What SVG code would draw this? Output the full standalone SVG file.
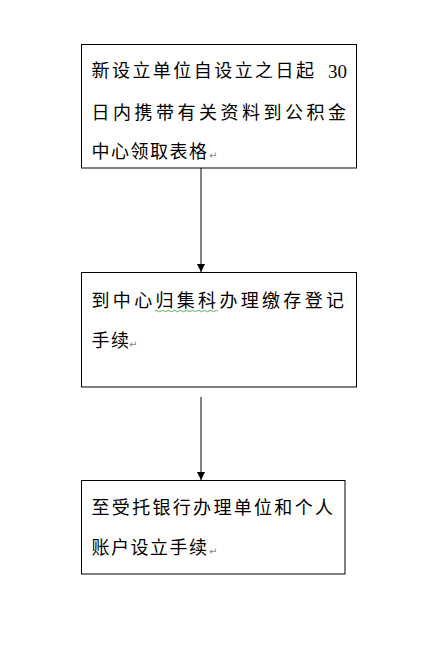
<svg xmlns="http://www.w3.org/2000/svg" width="433" height="646" viewBox="0 0 433 646">
<style>
.box{fill:#fff;stroke:#000;stroke-width:1}
.t{font-family:"Noto Sans CJK SC","Noto Sans",sans-serif;font-size:18px;fill:#000;letter-spacing:1.5px}
.n{font-family:"Liberation Serif",serif;font-size:19px;fill:#000}
.rm{font-family:"DejaVu Sans",sans-serif;font-size:10px;fill:#888}
.conn{stroke:#333;stroke-width:1.2;fill:none}
</style>
<defs>
<marker id="ah" viewBox="0 0 10 10" refX="10" refY="5" markerWidth="9" markerHeight="8" markerUnits="userSpaceOnUse" orient="auto">
<path d="M0,0 L10,5 L0,10 Z" fill="#000"/>
</marker>
</defs>
<rect width="433" height="646" fill="#fff"/>
<g id="connectors">
<line class="conn" x1="201" y1="168" x2="201" y2="272" marker-end="url(#ah)"/>
<line class="conn" x1="201" y1="397" x2="201" y2="480" marker-end="url(#ah)"/>
</g>
<g id="node1">
<rect class="box" x="81.5" y="44.5" width="275" height="123.5"/>
<text class="t" x="91.5" y="77" textLength="224" lengthAdjust="spacing">新设立单位自设立之日起</text>
<text class="n" x="328" y="78">30</text>
<text class="t" x="91.5" y="119" textLength="256" lengthAdjust="spacing">日内携带有关资料到公积金</text>
<text class="t" x="91.5" y="158">中心领取表格</text>
<text class="rm" x="209" y="159">↵</text>
</g>
<g id="node2">
<rect class="box" x="81.5" y="272.5" width="275" height="114.5"/>
<text class="t" x="91.5" y="307" textLength="254" lengthAdjust="spacing">到中心归集科办理缴存登记</text>
<path d="M155,311 q1.5,-1.5 3,0 t3,0 t3,0 t3,0 t3,0 t3,0 t3,0 t3,0 t3,0 t3,0 t3,0 t3,0 t3,0 t3,0 t3,0 t3,0 t3,0 t3,0 t3,0 t3,0 t3,0" fill="none" stroke="#2a9a2a" stroke-width="0.8"/>
<text class="t" x="91.5" y="347">手续</text>
<text class="rm" x="129" y="348">↵</text>
</g>
<g id="node3">
<rect class="box" x="81.5" y="480.5" width="263.5" height="93.5"/>
<text class="t" x="91.5" y="514" textLength="243" lengthAdjust="spacing">至受托银行办理单位和个人</text>
<text class="t" x="91.5" y="554">账户设立手续</text>
<text class="rm" x="209" y="555">↵</text>
</g>
</svg>
